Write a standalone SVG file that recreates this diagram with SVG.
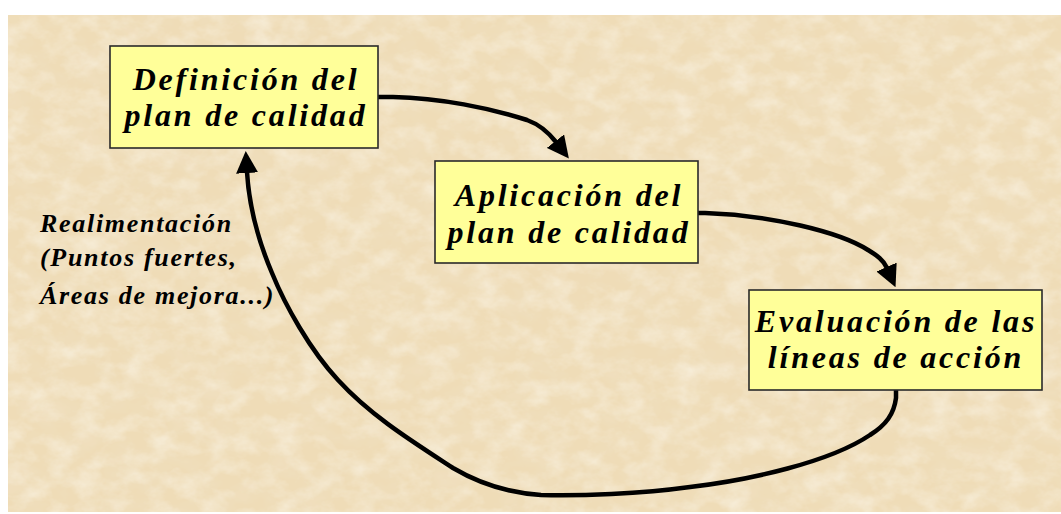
<svg xmlns="http://www.w3.org/2000/svg" width="1061" height="514" viewBox="0 0 1061 514">
<style>
.box{fill:#FFFF99;stroke:#2a2a2a;stroke-width:1.6}
.t{font-family:"Liberation Serif","Times New Roman",serif;font-weight:bold;font-style:italic;fill:#000}
.bt{font-size:32px;letter-spacing:2.8px;text-anchor:middle}
.lt{font-size:26px;letter-spacing:1.7px}
.c{fill:none;stroke:#000;stroke-width:4.5;stroke-linecap:butt;stroke-linejoin:round}
</style>
<defs>
<filter id="lite" x="0" y="0" width="100%" height="100%">
<feTurbulence type="fractalNoise" baseFrequency="0.04 0.055" numOctaves="4" seed="7"/>
<feColorMatrix type="matrix" values="0 0 0 0 0.98  0 0 0 0 0.95  0 0 0 0 0.87  1.0 0 0 0 -0.4"/>
</filter>
<filter id="dark" x="0" y="0" width="100%" height="100%">
<feTurbulence type="fractalNoise" baseFrequency="0.03 0.045" numOctaves="4" seed="21"/>
<feColorMatrix type="matrix" values="0 0 0 0 0.88  0 0 0 0 0.77  0 0 0 0 0.58  0.9 0 0 0 -0.36"/>
</filter>
<marker id="ah" viewBox="0 0 22 22" refX="1" refY="11" markerWidth="22" markerHeight="22" markerUnits="userSpaceOnUse" orient="auto">
<path d="M0,0 L22,11 L0,22 z" fill="#000"/>
</marker>
</defs>
<rect width="1061" height="514" fill="#fff"/>
<g id="background">
<rect x="8" y="15" width="1053" height="497" fill="#EFDCB7"/>
<rect x="8" y="15" width="1053" height="497" filter="url(#dark)"/>
<rect x="8" y="15" width="1053" height="497" filter="url(#lite)"/>
</g>
<g id="connectors">
<path class="c" marker-end="url(#ah)" d="M378,97 L393,97 C440,98 490,108 527,120 C538,124 549,133 556,142"/>
<path class="c" marker-end="url(#ah)" d="M698,213 L705,213 C770,215 840,232 868,250 C876,255 883,259 887,268"/>
<path class="c" marker-end="url(#ah)" d="M896,390 L896,398 C894,414 886,425 870,435 C830,462 750,480 690,487 C640,494 580,496 541,495 C510,493 480,484 453,468 C410,440 370,415 338,380 C310,350 285,305 272,273 C258,240 249,205 247,172"/>
</g>
<g id="node-definicion">
<rect class="box" x="110" y="46" width="268" height="102"/>
<text class="t bt" x="246" y="90">Definición del</text>
<text class="t bt" x="246" y="126">plan de calidad</text>
</g>
<g id="node-aplicacion">
<rect class="box" x="435" y="161" width="263" height="102"/>
<text class="t bt" x="569" y="206">Aplicación del</text>
<text class="t bt" x="569" y="243">plan de calidad</text>
</g>
<g id="node-evaluacion">
<rect class="box" x="749" y="290" width="293" height="100"/>
<text class="t bt" x="896" y="332">Evaluación de las</text>
<text class="t bt" x="896" y="368">líneas de acción</text>
</g>
<g id="label-realimentacion">
<text class="t lt" x="40" y="232">Realimentación</text>
<text class="t lt" x="40" y="266">(Puntos fuertes,</text>
<text class="t lt" x="40" y="304">Áreas de mejora...)</text>
</g>
</svg>
